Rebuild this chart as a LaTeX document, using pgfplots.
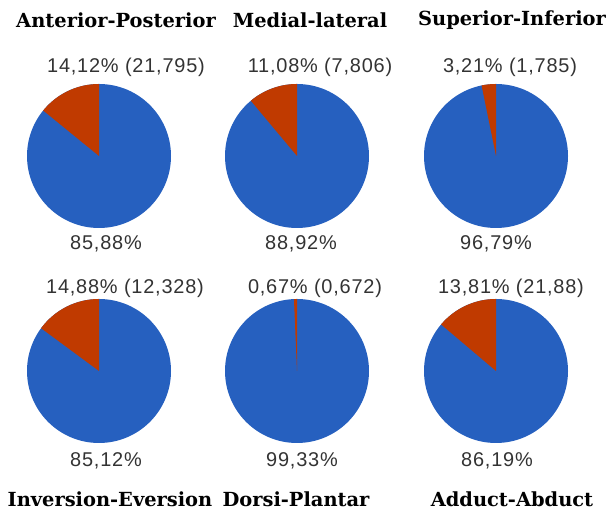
\documentclass[border=0pt]{standalone}
\usepackage{pgfplots}
\pgfplotsset{compat=1.18}
\usepackage{fontspec}
\setmainfont{Liberation Sans}
\newfontfamily\titlefont{DejaVu Serif}
\definecolor{pieblue}{HTML}{2660BF}
\definecolor{piered}{HTML}{C03A00}

\tikzset{
  lab/.style={font=\fontsize{20}{22}\selectfont\addfontfeature{LetterSpace=4}, text=black!80, inner sep=0pt},
  ttl/.style={font=\titlefont\bfseries\fontsize{19.5}{22}\selectfont, text=black, inner sep=0pt},
}

% \pie{cx}{cy}{red share in %}
\newcommand{\pie}[3]{%
  \fill[pieblue] (axis cs:#1,#2) circle[radius=72bp];
  \fill[piered] (axis cs:#1,#2) -- ++(0,72bp)
    arc[start angle=90, delta angle={3.6*#3}, radius=72bp] -- cycle;
}

\begin{document}
\begin{tikzpicture}
\begin{axis}[
    width=609bp, height=520bp, scale only axis,
    xmin=0, xmax=609, ymin=0, ymax=520,
    hide axis, clip=false,
]
  \path (axis cs:0,0) rectangle (axis cs:609,520);

  \pie{99}{364}{14.12}
  \pie{297}{364}{11.08}
  \pie{496}{364}{3.21}
  \pie{99}{149}{14.88}
  \pie{297}{149}{0.67}
  \pie{496}{149}{13.81}

  \node[ttl] at (axis cs:116,500) {Anterior-Posterior};
  \node[ttl] at (axis cs:310,500) {Medial-lateral};
  \node[ttl] at (axis cs:512,500) {Superior-Inferior};
  \node[ttl] at (axis cs:110,21) {Inversion-Eversion};
  \node[ttl] at (axis cs:296,21) {Dorsi-Plantar};
  \node[ttl] at (axis cs:512,21) {Adduct-Abduct};

  \node[lab] at (axis cs:126,453) {14,12\% (21,795)};
  \node[lab] at (axis cs:320,453) {11,08\% (7,806)};
  \node[lab] at (axis cs:510,453) {3,21\% (1,785)};
  \node[lab] at (axis cs:106,276) {85,88\%};
  \node[lab] at (axis cs:301,276) {88,92\%};
  \node[lab] at (axis cs:496,276) {96,79\%};

  \node[lab] at (axis cs:125,232) {14,88\% (12,328)};
  \node[lab] at (axis cs:315,232) {0,67\% (0,672)};
  \node[lab] at (axis cs:511,232) {13,81\% (21,88)};
  \node[lab] at (axis cs:106,59) {85,12\%};
  \node[lab] at (axis cs:302,59) {99,33\%};
  \node[lab] at (axis cs:497,59) {86,19\%};
\end{axis}
\end{tikzpicture}
\end{document}
